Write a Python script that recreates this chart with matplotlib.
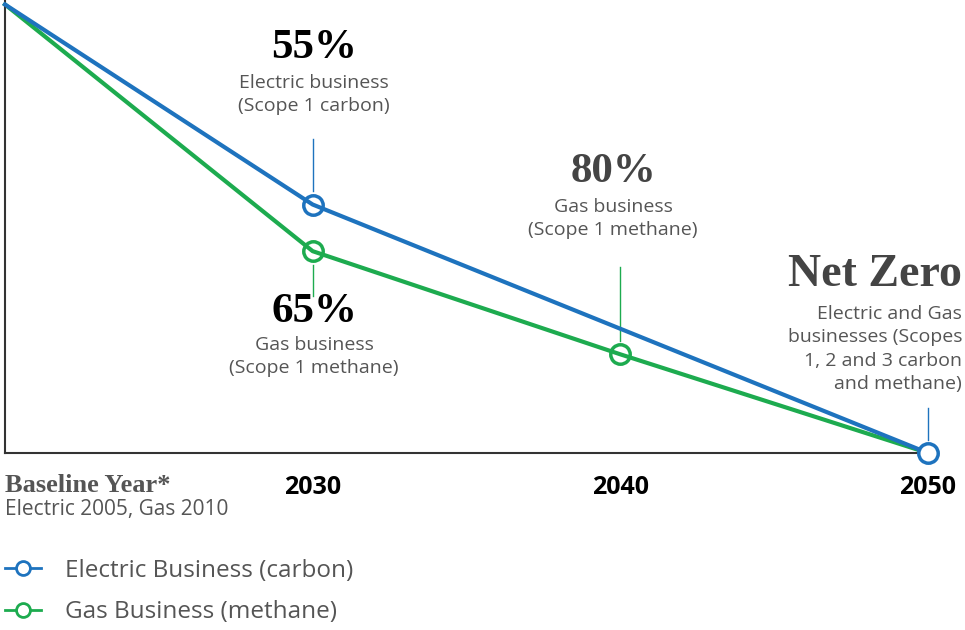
import matplotlib.pyplot as plt
from matplotlib.lines import Line2D

# emissions remaining, % of baseline
positions = [0, 1, 2, 3]
year_labels = ["2030", "2040", "2050"]
electric_x = [0, 1, 3]
electric_y = [100, 55.4, 0]
gas_x = [0, 1, 2, 3]
gas_y = [100, 45, 22, 0]

blue = "#1e73be"
green = "#1dab4f"
grey = "#555555"
sans = "Open Sans"
serif = "Liberation Serif"

fig = plt.figure(figsize=(9.65, 6.3), dpi=100)
ax = fig.add_axes([5 / 965, 1 - 453 / 630, 923 / 965, 453 / 630])

ax.plot(electric_x, electric_y, color=blue, lw=3, zorder=3, clip_on=False)
ax.plot(gas_x, gas_y, color=green, lw=3, zorder=2, clip_on=False)
ax.plot(electric_x[1:2], electric_y[1:2], "o", color=blue, ms=14, mfc="none", mew=2.5, zorder=4)
ax.plot(gas_x[1:3], gas_y[1:3], "o", color=green, ms=14, mfc="none", mew=2.5, zorder=4)
ax.plot(electric_x[-1:], electric_y[-1:], "o", color=blue, ms=14, mfc="white", mew=2.5, zorder=5, clip_on=False)

ax.set_xlim(0, 3)
ax.set_ylim(0, 101)
for s in ["top", "right"]:
    ax.spines[s].set_visible(False)
for s in ["left", "bottom"]:
    ax.spines[s].set_color("#333333")
    ax.spines[s].set_linewidth(1.5)
ax.set_yticks([])
ax.set_xticks(positions[1:])
ax.set_xticklabels(year_labels, fontsize=18, fontweight="bold", family=sans)
ax.tick_params(axis="x", length=0, pad=16)

# callout stems
ax.plot([1, 1], [55.4 + 3, 70], color=blue, lw=1)
ax.plot([1, 1], [45 - 3, 35], color=green, lw=1)
ax.plot([2, 2], [22 + 3, 41.5], color=green, lw=1)
ax.plot([3, 3], [3, 10], color=blue, lw=1, clip_on=False)

def fy(py):
    return 1 - py / 630

def fx(px):
    return px / 965

def callout(x, ys, pct, lines, color="black", ha="center", size=31):
    fig.text(fx(x), fy(ys[0]), pct, ha=ha, va="center", family=serif,
             fontweight="bold", fontsize=size, color=color)
    for t, y in zip(lines, ys[1:]):
        fig.text(fx(x), fy(y), t, ha=ha, va="center", family=sans,
                 fontsize=14, color=grey)

callout(314, [48, 83, 106], "55%", ["Electric business", "(Scope 1 carbon)"], color="black")
callout(314, [312, 345, 368], "65%", ["Gas business", "(Scope 1 methane)"], color="black")
callout(613, [172, 207, 230], "80%", ["Gas business", "(Scope 1 methane)"], color="#444444")
callout(962, [275, 314, 337, 361, 384], "Net Zero",
        ["Electric and Gas", "businesses (Scopes", "1, 2 and 3 carbon", "and methane)"],
        color="#444444", ha="right", size=33)

fig.text(fx(5), fy(486), "Baseline Year*", ha="left", va="center", family=serif,
         fontweight="bold", fontsize=19, color=grey)
fig.text(fx(5), fy(510), "Electric 2005, Gas 2010", ha="left", va="center", family=sans,
         fontsize=15, color=grey)

handles = [
    Line2D([], [], color=blue, lw=2, marker="o", ms=10, mfc="white", mew=2),
    Line2D([], [], color=green, lw=2, marker="o", ms=10, mfc="white", mew=2),
]
fig.legend(handles, ["Electric Business (carbon)", "Gas Business (methane)"],
           loc="upper left", bbox_to_anchor=(fx(5), fy(559)), frameon=False,
           handlelength=1.5, handletextpad=0.95, labelspacing=0.7,
           prop={"family": sans, "size": 17.5}, labelcolor=grey, borderaxespad=0, borderpad=0)

fig.savefig("out.png", dpi=100)
